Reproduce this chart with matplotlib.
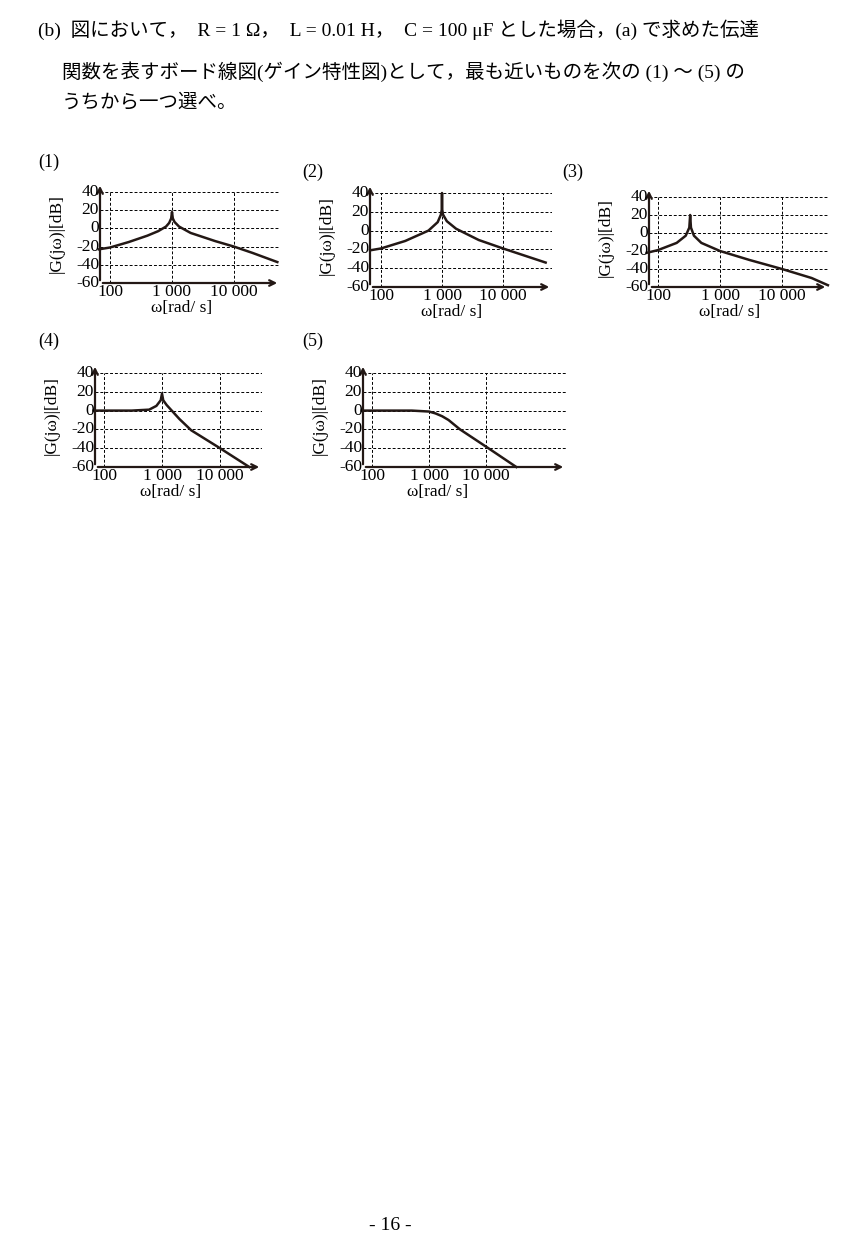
import matplotlib
matplotlib.use("Agg")
import matplotlib.pyplot as plt
import numpy as np

plt.rcParams['font.family'] = ['Liberation Serif', 'Noto Sans CJK JP', 'DejaVu Sans']

W, H = 846, 1233
fig = plt.figure(figsize=(W/100, H/100), dpi=100)

# data: (omega, dB)
w1 = [66, 100, 200, 400, 600, 800, 900, 970, 1000, 1030, 1100, 1300, 2000, 5000, 10000, 20000, 50000]
g1 = [-23, -21, -15, -8, -3, 2, 6, 11, 18, 11, 7, 2, -5, -14, -20, -27, -37]
w2 = [66, 100, 250, 600, 850, 960, 990, 1000, 1010, 1040, 1200, 1700, 4000, 10000, 50000]
g2 = [-21, -19, -11, 0, 9, 17, 22, 40, 22, 17, 10, 2, -10, -19, -34]
w3 = [66, 100, 200, 280, 320, 330, 340, 380, 500, 1000, 3000, 10000, 30000, 55000]
g3 = [-22, -19, -11, -3, 6, 20, 6, -3, -11, -20, -30, -40, -50, -58]
w4 = [66, 300, 600, 800, 950, 1000, 1050, 1200, 2000, 3200, 10000, 32000]
g4 = [0, 0, 1, 5, 11, 18, 11, 6, -9, -21, -40, -60]
w5 = [66, 500, 1000, 1300, 1700, 2200, 3500, 11000, 34000]
g5 = [0, 0, -1, -3, -6, -10, -20, -40, -60]
yticks = [40, 20, 0, -20, -40, -60]
xticks = [100, 1000, 10000]
xticklabels = ['100', '1 000', '10 000']

def ftxt(px, py, s, **kw):
    fig.text(px / W, 1 - py / H, s, **kw)

def panel(label, lx, x100, dec, xend, ybot, y40, w, g, labxy):
    ytop = y40 - 9
    xl = 10 ** (2 - (x100 - lx) / dec)
    xr = 10 ** (2 + (xend - x100) / dec)
    ytopv = 40 + 9 * 100 / (ybot - y40)
    ax = fig.add_axes([lx / W, 1 - ybot / H, (xend - lx) / W, (ybot - ytop) / H])
    ax.set_xscale('log')
    ax.set_xlim(xl, xr)
    ax.set_ylim(-60, ytopv)
    for s in ax.spines.values():
        s.set_visible(False)
    for x in xticks:
        ax.plot([x, x], [-60, 40], color='black', ls=(0, (3, 2)), lw=0.7)
    for y in yticks[:-1]:
        ax.plot([xl, xr], [y, y], color='black', ls=(0, (3, 2)), lw=0.7)
    ax.annotate('', xy=(xr, -60), xytext=(xl, -60), xycoords='data',
                arrowprops=dict(arrowstyle='->', lw=1.6, color='#231815'), annotation_clip=False)
    ax.annotate('', xy=(xl, ytopv), xytext=(xl, -60), xycoords='data',
                arrowprops=dict(arrowstyle='->', lw=1.6, color='#231815'), annotation_clip=False)
    ax.plot(w, g, color='#231815', lw=1.8, clip_on=False)
    ax.set_xticks([]); ax.set_yticks([])
    ax.minorticks_off()
    step = (ybot - y40) / 5
    for i, y in enumerate(yticks):
        ftxt(lx - 1, y40 + i * step, str(y), ha='right', va='center', fontsize=12.5)
    for i, t in enumerate(xticklabels):
        ftxt(x100 + i * dec, ybot + 1, t, ha='center', va='top', fontsize=12.5)
    ftxt(x100 + 1.15 * dec, ybot + 17, 'ω[rad/ s]', ha='center', va='top', fontsize=12.5)
    ftxt(lx - 43, (ybot + y40) / 2 - 4, '|G(jω)|[dB]', rotation=90, ha='center', va='center', fontsize=12.5)
    ftxt(labxy[0], labxy[1], label, fontsize=13, ha='left', va='center')

panel('(1)', 100, 110, 62, 280, 283, 192, w1, g1, (38, 162))
panel('(2)', 370, 381, 61, 552, 287, 193, w2, g2, (302, 172))
panel('(3)', 649, 658, 62, 828, 287, 197, w3, g3, (562, 172))
panel('(4)', 95, 104, 58, 262, 467, 373, w4, g4, (38, 341))
panel('(5)', 363, 372, 57, 566, 467, 373, w5, g5, (302, 341))

fs = 14
ftxt(38, 30, '(b)  図において，  R = 1 Ω，  L = 0.01 H，  C = 100 μF とした場合，(a) で求めた伝達',
     fontsize=fs, va='center')
ftxt(62, 72, '関数を表すボード線図(ゲイン特性図)として，最も近いものを次の (1) ～ (5) の',
     fontsize=fs, va='center')
ftxt(62, 103, 'うちから一つ選べ。', fontsize=fs, va='center')
ftxt(390, 1226, '- 16 -', fontsize=14, ha='center', va='center')

fig.savefig('out.png', dpi=100)
